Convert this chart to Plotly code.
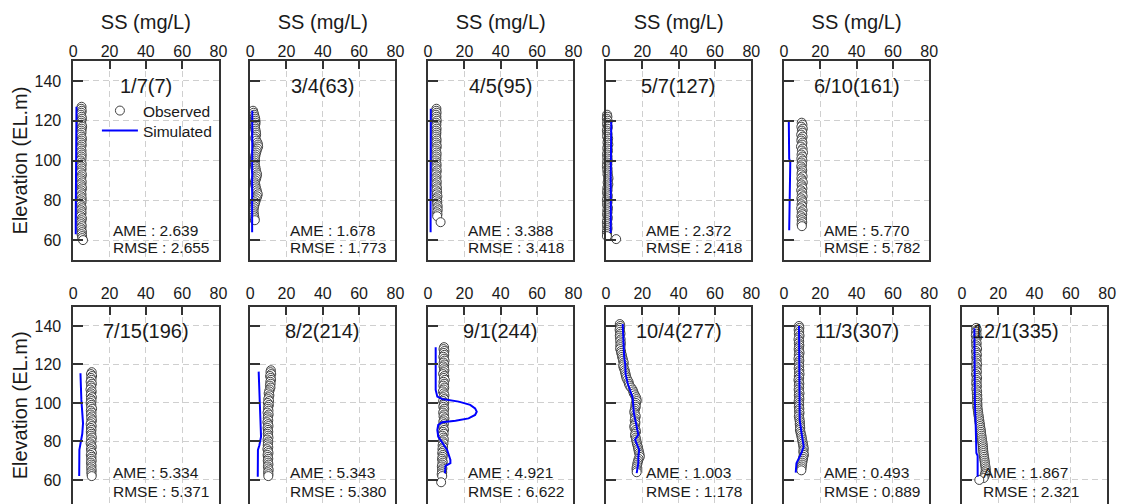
import plotly.graph_objects as go

# ---------------- panel labels and error statistics ----------------
panel_titles = ["1/7(7)", "3/4(63)", "4/5(95)", "5/7(127)", "6/10(161)",
                "7/15(196)", "8/2(214)", "9/1(244)", "10/4(277)", "11/3(307)", "12/1(335)"]
ame = [2.639, 1.678, 3.388, 2.372, 5.770, 5.334, 5.343, 4.921, 1.003, 0.493, 1.867]
rmse = [2.655, 1.773, 3.418, 2.418, 5.782, 5.371, 5.380, 6.622, 1.178, 0.889, 2.321]

x_ticks = [0, 20, 40, 60, 80]
y_ticks = [60, 80, 100, 120, 140]

# ---------------- observed profiles: elevation (EL.m) / SS (mg/L) ----------------
obs1_elev = [127, 126, 125, 124, 123, 122, 121, 120, 119, 118, 117, 116, 115, 114, 113, 112, 111,
             110, 109, 108, 107, 106, 105, 104, 103, 102, 101, 100, 99, 98, 97, 96, 95, 94, 93, 92,
             91, 90, 89, 88, 87, 86, 85, 84, 83, 82, 81, 80, 79, 78, 77, 76, 75, 74, 73, 72, 71, 70,
             69, 68, 67, 66, 65, 64, 63, 62, 61, 60]
obs1_ss = [4.6, 4.4, 4.7, 4.5, 4.3, 4.6, 4.8, 4.5, 4.4, 4.6,
           4.9, 4.7, 4.5, 4.6, 4.3, 4.5, 4.8, 4.6, 4.4, 4.7,
           4.5, 4.3, 4.6, 4.4, 4.7, 4.5, 4.6, 4.2, 4.5, 4.7,
           4.4, 4.6, 4.5, 4.3, 4.8, 4.6, 4.4, 4.5, 4.7, 4.4,
           4.6, 4.8, 4.5, 4.3, 4.6, 4.4, 4.7, 4.5, 4.6, 4.2,
           4.5, 4.7, 4.4, 4.6, 4.5, 4.3, 4.8, 4.6, 4.4, 4.5,
           4.7, 4.4, 4.6, 4.8, 4.6, 4.9, 5.0, 5.4]

obs2_elev = [125, 124, 123, 122, 121, 120, 119, 118, 117, 116, 115, 114, 113, 112, 111, 110, 109,
             108, 107, 106, 105, 104, 103, 102, 101, 100, 99, 98, 97, 96, 95, 94, 93, 92, 91, 90,
             89, 88, 87, 86, 85, 84, 83, 82, 81, 80, 79, 78, 77, 76, 75, 74, 73, 72, 71, 70]
obs2_ss = [1.6, 1.9, 2.2, 2.5, 2.8, 2.9, 3.0, 2.8, 2.6, 2.8,
           3.0, 3.2, 3.3, 3.0, 2.8, 3.4, 4.0, 4.3, 4.4, 4.0,
           3.6, 3.3, 3.0, 2.8, 2.6, 2.5, 2.4, 2.6, 2.8, 3.0,
           3.2, 3.5, 3.8, 3.6, 3.3, 2.9, 2.6, 2.8, 3.0, 3.3,
           3.6, 3.9, 4.2, 3.9, 3.5, 3.1, 2.8, 2.5, 2.2, 2.0,
           1.8, 1.9, 2.0, 2.2, 2.4, 2.6]

obs3_elev = [126, 125, 124, 123, 122, 121, 120, 119, 118, 117, 116, 115, 114, 113, 112, 111, 110,
             109, 108, 107, 106, 105, 104, 103, 102, 101, 100, 99, 98, 97, 96, 95, 94, 93, 92, 91,
             90, 89, 88, 87, 86, 85, 84, 83, 82, 81, 80, 79, 78, 77, 76, 75, 74, 73, 72, 69]
obs3_ss = [4.6, 4.5, 4.7, 4.4, 4.6, 4.5, 4.8, 4.5, 4.6, 4.4,
           4.7, 4.5, 4.6, 4.5, 4.4, 4.6, 4.7, 4.5, 4.6, 4.8,
           4.5, 4.4, 4.6, 4.7, 4.5, 4.6, 4.4, 4.5, 4.7, 4.6,
           4.5, 4.8, 4.6, 4.4, 4.7, 4.5, 4.6, 4.8, 4.5, 4.7,
           4.9, 4.6, 5.0, 4.8, 5.2, 4.9, 4.8, 5.1, 5.0, 5.3,
           5.1, 5.3, 5.0, 5.2, 5.0, 6.9]

obs4_elev = [123, 122, 121, 120, 119, 118, 117, 116, 115, 114, 113, 112, 111, 110, 109, 108, 107,
             106, 105, 104, 103, 102, 101, 100, 99, 98, 97, 96, 95, 94, 93, 92, 91, 90, 89, 88, 87,
             86, 85, 84, 83, 82, 81, 80, 79, 78, 77, 76, 75, 74, 73, 72, 71, 70, 69, 68, 67, 66, 65,
             64, 63, 62, 60.5]
obs4_ss = [0.6, 0.8, 0.5, 0.9, 0.7, 0.6, 1.0, 0.8, 0.5, 0.7,
           0.9, 0.6, 1.2, 1.0, 0.8, 1.3, 0.9, 0.7, 1.1, 0.8,
           0.6, 0.9, 0.7, 1.0, 0.6, 0.8, 0.5, 0.9, 0.7, 1.0,
           0.8, 1.2, 1.4, 1.1, 0.9, 1.3, 1.0, 0.7, 0.9, 0.6,
           0.8, 1.0, 0.7, 0.5, 0.9, 0.6, 0.8, 1.1, 0.7, 0.9,
           0.6, 0.8, 1.0, 0.7, 0.5, 0.8, 0.6, 0.9, 0.7, 0.5,
           0.6, 0.5, 5.6]

obs5_elev = [119, 118, 117, 116, 115, 114, 113, 112, 111, 110, 109, 108, 107, 106, 105, 104, 103,
             102, 101, 100, 99, 98, 97, 96, 95, 94, 93, 92, 91, 90, 89, 88, 87, 86, 85, 84, 83, 82,
             81, 80, 79, 78, 77, 76, 75, 74, 73, 72, 71, 70, 69, 68, 67]
obs5_ss = [9.8, 10.2, 9.6, 10.4, 9.9, 10.1, 9.5, 10.3, 9.8, 9.6,
           10.2, 10.0, 9.4, 10.3, 9.9, 10.5, 9.7, 10.1, 9.6, 10.2,
           9.8, 10.0, 9.5, 9.9, 10.1, 9.8, 9.7, 10.3, 9.6, 10.0,
           10.4, 9.7, 9.9, 10.2, 9.5, 10.1, 9.8, 10.3, 9.6, 9.9,
           10.2, 9.7, 10.0, 9.5, 10.3, 9.8, 10.1, 9.6, 10.0, 9.8,
           10.1, 9.7, 9.9]

obs6_elev = [116, 115, 114, 113, 112, 111, 110, 109, 108, 107, 106, 105, 104, 103, 102, 101, 100,
             99, 98, 97, 96, 95, 94, 93, 92, 91, 90, 89, 88, 87, 86, 85, 84, 83, 82, 81, 80, 79, 78,
             77, 76, 75, 74, 73, 72, 71, 70, 69, 68, 67, 66, 65, 64, 63, 62]
obs6_ss = [10.2, 9.8, 10.4, 9.9, 10.1, 9.6, 10.3, 9.8, 10.0, 9.5,
           10.2, 9.9, 9.7, 10.3, 9.8, 10.1, 9.6, 10.0, 9.9, 10.4,
           9.7, 10.1, 9.8, 10.2, 9.9, 10.3, 10.0, 9.6, 10.2, 9.8,
           10.1, 9.7, 10.0, 9.9, 10.3, 9.8, 10.1, 9.6, 10.0, 10.2,
           9.8, 10.0, 10.3, 9.7, 10.1, 9.9, 10.2, 9.8, 10.0, 10.1,
           9.9, 10.2, 10.0, 10.1, 10.2]

obs7_elev = [117, 116, 115, 114, 113, 112, 111, 110, 109, 108, 107, 106, 105, 104, 103, 102, 101,
             100, 99, 98, 97, 96, 95, 94, 93, 92, 91, 90, 89, 88, 87, 86, 85, 84, 83, 82, 81, 80, 79,
             78, 77, 76, 75, 74, 73, 72, 71, 70, 69, 68, 67, 66, 65, 64, 63, 62]
obs7_ss = [11.4, 11.2, 11.6, 11.0, 11.3, 11.5, 11.1, 11.3, 10.9, 11.2,
           10.8, 10.5, 10.2, 10.6, 10.3, 10.0, 10.4, 9.8, 10.3, 10.0,
           9.9, 10.1, 9.6, 10.2, 9.8, 9.7, 10.0, 9.5, 9.9, 10.1,
           9.6, 9.8, 10.0, 9.7, 9.9, 10.1, 9.6, 10.0, 9.8, 9.7,
           10.0, 9.5, 9.9, 10.1, 9.6, 9.8, 10.0, 9.7, 9.9, 10.1,
           9.8, 10.0, 10.2, 9.9, 10.1, 10.0]

obs8_elev = [129, 128, 127, 126, 125, 124, 123, 122, 121, 120, 119, 118, 117, 116, 115, 114, 113,
             112, 111, 110, 109, 108, 107, 106, 105, 104, 103, 102, 101, 100, 99, 98, 97, 96, 95,
             94, 93, 92, 91, 90, 89, 88, 87, 86, 85, 84, 83, 82, 81, 80, 79, 78, 77, 76, 75, 74, 73,
             72, 71, 70, 69, 68, 67, 66, 65, 64, 63, 62, 58.8]
obs8_ss = [8.8, 8.5, 9.0, 8.7, 8.9, 8.4, 8.8, 9.1, 8.6, 8.9,
           8.5, 8.8, 9.0, 8.6, 8.3, 8.9, 8.7, 9.2, 8.5, 8.8,
           8.4, 8.9, 8.6, 8.2, 8.7, 9.0, 8.5, 8.8, 8.3, 8.9,
           8.6, 8.4, 8.9, 8.7, 8.3, 8.8, 8.5, 9.0, 8.6, 8.4,
           8.7, 8.2, 8.5, 8.8, 8.3, 8.6, 8.0, 8.4, 8.7, 8.2,
           8.5, 8.0, 8.3, 7.9, 8.2, 7.8, 8.1, 8.0, 7.7, 7.9,
           8.1, 7.8, 7.6, 7.9, 7.7, 7.8, 7.5, 7.8, 7.2]

obs9_elev = [141, 140, 139, 138, 137, 136, 135, 134, 133, 132, 131, 130, 129, 128, 127, 126, 125,
             124, 123, 122, 121, 120, 119, 118, 117, 116, 115, 114, 113, 112, 111, 110, 109, 108,
             107, 106, 105, 104, 103, 102, 101, 100, 99, 98, 97, 96, 95, 94, 93, 92, 91, 90, 89, 88,
             87, 86, 85, 84, 83, 82, 81, 80, 79, 78, 77, 76, 75, 74, 73, 72, 71, 70, 69, 68, 67, 66,
             65, 64]
obs9_ss = [7.6, 7.9, 7.7, 7.5, 7.8, 8.0, 7.6, 7.7, 8.1, 7.8,
           8.2, 7.9, 8.0, 7.8, 8.3, 8.4, 8.7, 8.9, 9.2, 9.4,
           9.8, 9.6, 9.5, 9.9, 10.3, 10.5, 10.8, 11.0, 11.3, 11.8,
           12.4, 12.6, 13.0, 13.8, 14.6, 15.0, 15.3, 15.9, 16.5, 16.8,
           16.9, 16.5, 16.2, 16.4, 16.0, 15.7, 15.6, 16.1, 16.4, 16.0,
           15.8, 16.2, 16.1, 15.6, 15.7, 16.3, 16.5, 16.1, 16.0, 16.4,
           16.6, 16.8, 17.0, 17.3, 17.6, 17.8, 18.0, 18.3, 18.5, 18.6,
           18.0, 17.7, 17.4, 17.2, 17.0, 16.8, 16.9, 16.9]

obs10_elev = [140, 139, 138, 137, 136, 135, 134, 133, 132, 131, 130, 129, 128, 127, 126, 125, 124,
              123, 122, 121, 120, 119, 118, 117, 116, 115, 114, 113, 112, 111, 110, 109, 108, 107,
              106, 105, 104, 103, 102, 101, 100, 99, 98, 97, 96, 95, 94, 93, 92, 91, 90, 89, 88, 87,
              86, 85, 84, 83, 82, 81, 80, 79, 78, 77, 76, 75, 74, 73, 72, 71, 70, 69, 68, 67, 66, 65]
obs10_ss = [8.3, 8.5, 8.1, 8.4, 8.2, 8.6, 8.3, 8.0, 8.4, 8.2,
            8.5, 8.3, 8.1, 8.4, 8.6, 8.2, 8.3, 8.0, 8.5, 8.3,
            8.2, 8.4, 8.1, 8.5, 8.3, 8.6, 8.2, 8.4, 8.0, 8.3,
            8.5, 8.2, 8.4, 8.1, 8.3, 8.6, 8.2, 8.4, 8.5, 8.1,
            8.3, 8.4, 8.2, 8.5, 8.3, 8.6, 8.4, 8.2, 8.5, 8.6,
            8.8, 8.7, 8.9, 9.0, 8.8, 9.1, 9.3, 9.6, 9.8, 10.0,
            10.2, 10.4, 10.6, 10.8, 10.9, 10.7, 10.8, 11.0, 10.7, 10.5,
            10.3, 10.1, 10.0, 9.8, 9.7, 9.6]

obs11_elev = [139, 138, 137, 136, 135, 134, 133, 132, 131, 130, 129, 128, 127, 126, 125, 124, 123,
              122, 121, 120, 119, 118, 117, 116, 115, 114, 113, 112, 111, 110, 109, 108, 107, 106,
              105, 104, 103, 102, 101, 100, 99, 98, 97, 96, 95, 94, 93, 92, 91, 90, 89, 88, 87, 86,
              85, 84, 83, 82, 81, 80, 79, 78, 77, 76, 75, 74, 73, 72, 71, 70, 69, 68, 67, 66, 65, 64,
              63, 62, 61, 60]
obs11_ss = [7.9, 8.2, 7.8, 8.1, 7.7, 8.3, 8.0, 7.8, 8.2, 7.9,
            8.1, 8.4, 7.8, 8.0, 8.3, 7.9, 8.1, 8.2, 8.0, 8.4,
            7.9, 8.2, 8.0, 8.3, 7.8, 8.1, 8.4, 8.0, 8.2, 7.9,
            8.3, 8.1, 8.0, 8.4, 8.2, 8.5, 8.3, 8.6, 8.4, 8.5,
            8.6, 8.5, 8.7, 8.8, 9.0, 9.1, 9.3, 9.4, 9.6, 9.7,
            9.9, 10.0, 10.2, 10.4, 10.5, 10.6, 10.8, 10.9, 11.1, 11.2,
            11.4, 11.5, 11.6, 11.7, 11.8, 11.9, 12.0, 12.2, 12.4, 12.5,
            12.7, 12.8, 13.0, 13.1, 13.2, 13.0, 12.8, 12.5, 12.0, 9.6]

# ---------------- simulated profiles ----------------
sim1_elev = [127, 120, 110, 100, 90, 80, 70, 63]
sim1_ss = [1.8, 1.7, 1.6, 1.6, 1.5, 1.5, 1.4, 1.4]
sim2_elev = [125, 115, 105, 95, 85, 75, 64]
sim2_ss = [1.2, 1.1, 1.2, 1.1, 1.0, 1.1, 1.1]
sim3_elev = [126, 115, 105, 95, 85, 75, 64]
sim3_ss = [1.5, 1.4, 1.5, 1.4, 1.5, 1.4, 1.4]
sim4_elev = [119.5, 110, 100, 90, 80, 70, 63.6]
sim4_ss = [2.9, 2.7, 2.7, 2.6, 2.7, 2.6, 2.6]
sim5_elev = [119.5, 108, 101, 99, 92, 82, 72, 65]
sim5_ss = [2.7, 2.8, 2.9, 3.5, 3.4, 3.0, 2.9, 2.9]
sim6_elev = [115.4, 108, 101.6, 95, 89.4, 84, 80.8, 75.6, 62.1]
sim6_ss = [4.0, 4.2, 4.5, 5.0, 5.4, 5.0, 4.5, 3.4, 3.3]
sim7_elev = [116.3, 101.6, 93, 82.5, 78, 75.6, 61.7]
sim7_ss = [4.7, 5.1, 5.7, 6.0, 5.1, 4.3, 4.2]
sim8_elev = [128.9, 106.8, 103.3, 102.1, 100.7, 99.0, 97.2, 95.5, 93.8, 92.0, 90.8, 90.0, 88.6,
             86.0, 82.5, 79.1, 75.6, 70.4, 68.7, 67.3, 63.5]
sim8_ss = [4.2, 4.2, 5.1, 7.8, 16.9, 23.2, 25.9, 26.8, 25.9, 22.3, 15.1, 7.8, 5.6, 5.1, 5.6, 7.8,
           10.5, 12.3, 12.3, 9.6, 9.3]
sim9_elev = [141.0, 133, 129, 124, 120, 115, 110, 106, 103, 99, 95, 90, 86, 83.5, 81, 79, 75.6, 72,
             68.7, 63.5]
sim9_ss = [9.2, 9.4, 9.7, 10.0, 10.6, 10.8, 12.0, 13.5, 14.6, 15.0, 15.3, 16.4, 17.2, 17.8, 16.0,
           16.9, 18.3, 17.8, 17.8, 16.9]
sim10_elev = [140, 120, 100, 91.2, 85, 80, 77.3, 73.9, 70, 68.7, 63.8]
sim10_ss = [8.3, 8.4, 8.5, 8.7, 9.6, 10.5, 10.9, 9.6, 7.5, 6.9, 6.5]
sim11_elev = [138.8, 120, 100, 89.6, 80, 74, 72.5, 61.7]
sim11_ss = [6.9, 7.0, 7.2, 7.6, 7.8, 8.0, 8.7, 8.7]

observed = [(obs1_elev, obs1_ss), (obs2_elev, obs2_ss), (obs3_elev, obs3_ss), (obs4_elev, obs4_ss),
            (obs5_elev, obs5_ss), (obs6_elev, obs6_ss), (obs7_elev, obs7_ss), (obs8_elev, obs8_ss),
            (obs9_elev, obs9_ss), (obs10_elev, obs10_ss), (obs11_elev, obs11_ss)]
simulated = [(sim1_elev, sim1_ss), (sim2_elev, sim2_ss), (sim3_elev, sim3_ss), (sim4_elev, sim4_ss),
             (sim5_elev, sim5_ss), (sim6_elev, sim6_ss), (sim7_elev, sim7_ss), (sim8_elev, sim8_ss),
             (sim9_elev, sim9_ss), (sim10_elev, sim10_ss), (sim11_elev, sim11_ss)]

# ---------------- layout geometry (pixels) ----------------
W, H = 1129, 504
COL_LEFT = [70, 249, 429, 609, 789, 969]
PANEL_W = 147
ROW_SPAN = [(61, 260), (306.75, 504)]          # top / bottom pixel edge of each row
Y_RANGE = [[50, 150], [47.5, 150]]              # lower row runs off the bottom edge
X_LABEL_SHIFT = [-4, 0]
TITLE_Y = [137.5, 137.5]
AME_Y = [64.8, 63.8]
RMSE_Y = [56.2, 54.2]
TEXT_X = 20.8
TITLE_X = 40
LAST_SHIFT = -10.3                              # text block of the last panel sits further left

FONT = "Liberation Sans, Arial, sans-serif"
INK = "#1a1a1a"
FRAME = "#333333"
GRID = "#cfcfcf"
BLUE = "#0000ff"

fig = go.Figure()
layout = dict(
    width=W, height=H, margin=dict(l=0, r=0, t=0, b=0),
    paper_bgcolor="white", plot_bgcolor="white",
    font=dict(family=FONT, color=INK, size=16),
    showlegend=True,
    legend=dict(x=94 / W, y=1 - 94 / H, xanchor="left", yanchor="top", itemwidth=36,
                bgcolor="rgba(0,0,0,0)", font=dict(size=15.5)),
    legend2=dict(x=94 / W, y=1 - 114 / H, xanchor="left", yanchor="top", itemwidth=36,
                 bgcolor="rgba(0,0,0,0)", font=dict(size=15.5)),
)
annotations = []

for i in range(11):
    row = 0 if i < 5 else 1
    col = i if i < 5 else i - 5
    top, bot = ROW_SPAN[row]
    left = COL_LEFT[col]
    n = "" if i == 0 else str(i + 1)
    xa, ya = "x" + n, "y" + n

    layout["xaxis" + n] = dict(
        domain=[left / W, (left + PANEL_W) / W], anchor=ya, side="top",
        range=[0, 80], tickvals=x_ticks, ticks="inside", ticklen=8, tickwidth=1.5,
        tickcolor=FRAME, showline=True, linecolor=FRAME, linewidth=1.6, mirror=(row == 0),
        showgrid=True, gridcolor=GRID, griddash="6px,4px", gridwidth=1, zeroline=False,
        tickfont=dict(size=16), ticklabelstandoff=X_LABEL_SHIFT[row],
        title=dict(text="SS (mg/L)", font=dict(size=20), standoff=8) if row == 0 else None,
    )
    layout["yaxis" + n] = dict(
        domain=[1 - bot / H, 1 - top / H], anchor=xa,
        range=Y_RANGE[row], tickvals=y_ticks, ticks="inside", ticklen=10, tickwidth=1.5,
        tickcolor=FRAME, showline=True, linecolor=FRAME, linewidth=1.6, mirror=True,
        showgrid=True, gridcolor=GRID, griddash="6px,4px", gridwidth=1, zeroline=False,
        showticklabels=(col == 0), tickfont=dict(size=16), ticklabelstandoff=7,
        title=dict(text="Elevation (EL.m)", font=dict(size=20), standoff=1) if col == 0 else None,
    )

    oe, os_ = observed[i]
    se, ss = simulated[i]
    fig.add_trace(go.Scatter(
        x=os_, y=oe, xaxis=xa, yaxis=ya, mode="markers", name="Observed",
        showlegend=(i == 0), legend="legend", cliponaxis=False,
        marker=dict(symbol="circle", size=9, color="white", line=dict(color="#404040", width=1)),
    ))
    fig.add_trace(go.Scatter(
        x=ss, y=se, xaxis=xa, yaxis=ya, mode="lines", name="Simulated",
        showlegend=(i == 0), legend="legend2", line=dict(color=BLUE, width=2),
    ))

    shift = LAST_SHIFT if i == 10 else 0
    annotations.append(dict(text=panel_titles[i], x=TITLE_X + shift, y=TITLE_Y[row], xref=xa, yref=ya,
                            xanchor="center", yanchor="middle", showarrow=False,
                            font=dict(size=20, color=INK)))
    annotations.append(dict(text=f"AME : {ame[i]:.3f}", x=TEXT_X + shift, y=AME_Y[row], xref=xa, yref=ya,
                            xanchor="left", yanchor="middle", showarrow=False,
                            font=dict(size=15.5, color=INK)))
    annotations.append(dict(text=f"RMSE : {rmse[i]:.3f}", x=TEXT_X + shift, y=RMSE_Y[row], xref=xa, yref=ya,
                            xanchor="left", yanchor="middle", showarrow=False,
                            font=dict(size=15.5, color=INK)))

layout["annotations"] = annotations
fig.update_layout(**layout)
fig.write_html("out.html")
